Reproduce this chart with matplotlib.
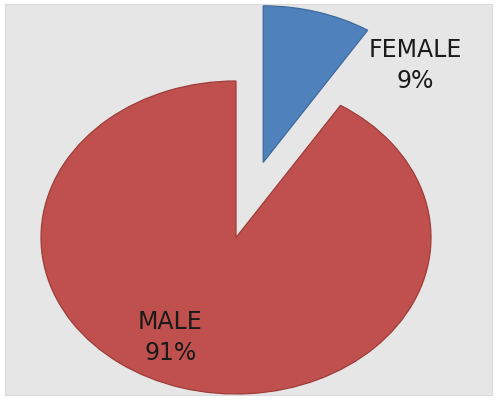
import matplotlib
matplotlib.use("Agg")
import matplotlib.pyplot as plt
from matplotlib.patches import Rectangle
import numpy as np

categories = ["FEMALE", "MALE"]
values = [9, 91]
explode = [0.5, 0.0]
colors = ["#4F81BD", "#C0504D"]
edgecolors = ["#3E6A9C", "#9E3D3A"]

W, H = 497, 402
fig = plt.figure(figsize=(W / 100, H / 100), dpi=100)
fig.patch.set_facecolor("white")

ax = fig.add_axes([0, 0, 1, 1])
ax.patch.set_alpha(0)
ax.add_patch(Rectangle((5 / W, 6 / H), 487 / W, 391 / H, transform=ax.transAxes,
                       facecolor="#E6E6E6", edgecolor="#DADADA", lw=0.8, zorder=-5))
cx, cy = 236, 163.5   # pie center in pixels (from bottom)
rx, ry = 195, 156.5   # pixels per data unit
wedges, _ = ax.pie(values, explode=explode, colors=colors, startangle=90,
                   counterclock=False, radius=1.0,
                   wedgeprops=dict(linewidth=0.9))
for w, ec in zip(wedges, edgecolors):
    w.set_edgecolor(ec)
ax.set_aspect("auto")
ax.set_xlim(-cx / rx, (W - cx) / rx)
ax.set_ylim(-cy / ry, (H - cy) / ry)
ax.axis("off")

# label positions (data coords)
label_pos = [((415.5 - cx) / rx, (H - 65.5 - cy) / ry), ((170.5 - cx) / rx, (H - 337.5 - cy) / ry)]
for cat, val, (lx, ly) in zip(categories, values, label_pos):
    ax.text(lx, ly, f"{cat}\n{val}%", ha="center", va="center", fontsize=17,
            family="DejaVu Sans", color="#1A1A1A", linespacing=1.38)

fig.savefig("out.png", dpi=100, facecolor="white")
